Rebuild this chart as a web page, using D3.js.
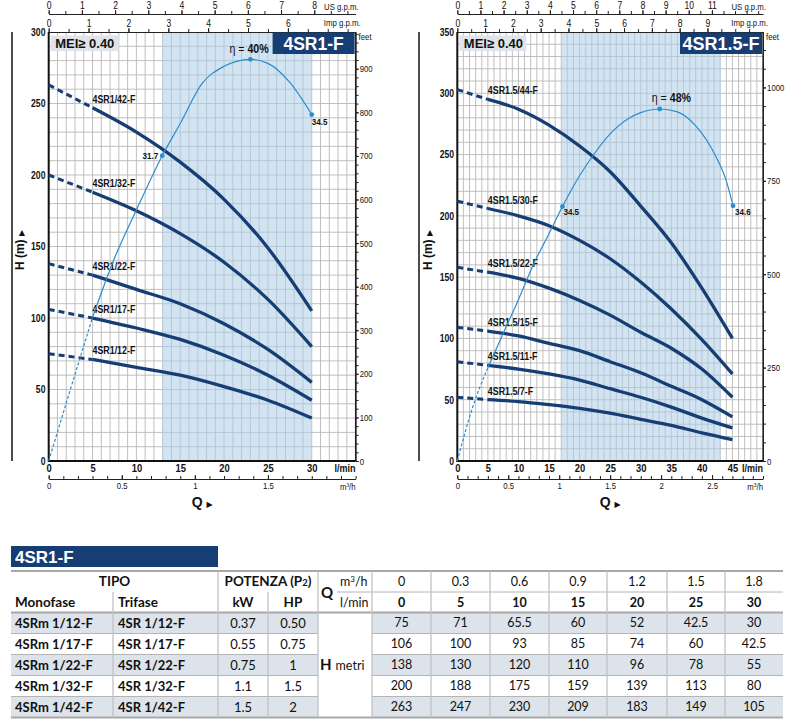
<!DOCTYPE html>
<html>
<head>
<meta charset="utf-8">
<script src="https://cdn.jsdelivr.net/npm/d3@7"></script>
<style>
  body { margin: 0; background: #fff; }
  svg { display: block; }
</style>
</head>
<body>
<svg id="chart" width="794" height="724"></svg>
<script>
// ---- left chart : 4SR1-F (l/min, m) ----
const leftFlow = [0, 5, 10, 15, 20, 25, 30];
const leftModels = ["4SR1/42-F", "4SR1/32-F", "4SR1/22-F", "4SR1/17-F", "4SR1/12-F"];
const leftHead42 = [263, 247, 230, 209, 183, 149, 105];
const leftHead32 = [200, 188, 175, 159, 139, 113, 80];
const leftHead22 = [138, 130, 120, 110, 96, 78, 55];
const leftHead17 = [106, 100, 93, 85, 74, 60, 42.5];
const leftHead12 = [75, 71, 65.5, 60, 52, 42.5, 30];
const leftEffFlow = [0, 2.5, 5, 7.5, 10, 12.95, 15, 17.5, 20, 23, 25, 27.5, 30];
const leftEffValue = [0, 7.2, 14.3, 20.2, 25, 30.4, 33.6, 37.6, 39.3, 40, 39.6, 37.7, 34.5];
const leftEffDotFlow = [12.95, 23, 30];
const leftEffDotText = ["31.7", null, "34.5"];

// ---- right chart : 4SR1.5-F ----
const rightFlow = [0, 5, 10, 15, 20, 25, 30, 35, 40, 45];
const rightModels = ["4SR1.5/44-F", "4SR1.5/30-F", "4SR1.5/22-F", "4SR1.5/15-F", "4SR1.5/11-F", "4SR1.5/7-F"];
const rightHead44 = [303, 295, 287, 274, 257, 236, 208, 178, 141, 100];
const rightHead30 = [212, 206, 200, 192, 180, 165, 146, 124, 99, 71];
const rightHead22 = [158, 154, 149, 141, 131, 119, 105, 92, 75, 52];
const rightHead15 = [109, 106, 102, 96, 90, 81, 72, 61, 50, 36];
const rightHead11 = [81, 78, 75, 71, 66, 59, 52, 44, 35, 27];
const rightHead7 = [52, 50, 48.5, 46, 43, 39, 34, 29, 23, 17.5];
const rightEffFlow = [0, 2.5, 5, 7.5, 10, 12.5, 15, 17.2, 20, 22.5, 25, 28, 30, 33.1, 36, 39, 42, 44, 45.1];
const rightEffValue = [0, 7.3, 12.7, 17.4, 22, 26.9, 31, 34.7, 38.9, 42, 44.6, 46.7, 47.5, 48, 47.6, 45.7, 42, 38.2, 34.8];
const rightEffDotFlow = [17.2, 33.1, 45.1];
const rightEffDotText = ["34.5", null, "34.6"];

// ---- table 4SR1-F ----
const tableMonofase = ["4SRm 1/12-F", "4SRm 1/17-F", "4SRm 1/22-F", "4SRm 1/32-F", "4SRm 1/42-F"];
const tableTrifase = ["4SR 1/12-F", "4SR 1/17-F", "4SR 1/22-F", "4SR 1/32-F", "4SR 1/42-F"];
const tableKw = ["0.37", "0.55", "0.75", "1.1", "1.5"];
const tableHp = ["0.50", "0.75", "1", "1.5", "2"];
const tableQm3h = ["0", "0.3", "0.6", "0.9", "1.2", "1.5", "1.8"];
const tableRows = [leftHead12, leftHead17, leftHead22, leftHead32, leftHead42];

const NAVY = "#163d74", EFF = "#2a8dcc", GRID = "#b9b9b9", SHADE = "#dce3ea";
const F_WIDE = '"Liberation Sans",Arial,sans-serif';
const F_TABLE = 'Lato,"Open Sans",sans-serif';
const SX = 0.82; // horizontal squeeze to mimic a narrow face

const svg = d3.select("#chart");
svg.append("rect").attr("width", 794).attr("height", 724).attr("fill", "#fff");

const styleAxis = (sel, size, weight) => {
  sel.attr("font-family", F_WIDE).attr("font-size", size);
  sel.selectAll("text").attr("fill", "#111").attr("font-weight", weight || "normal")
    .attr("transform", `scale(${SX},1)`);
  sel.selectAll("line, path").attr("stroke", "#222");
};

const ntext = (g, x, y, size, weight) => g.append("text")
  .attr("transform", `translate(${x},${y}) scale(${SX},1)`)
  .attr("font-family", F_WIDE).attr("font-size", size)
  .attr("font-weight", weight || "normal").attr("fill", "#111");

function drawChart(c) {
  const g = svg.append("g");
  const yBottom = 461, yTop = 32;
  const x = d3.scaleLinear().domain([0, c.qMax]).range([c.x0, c.x1]);
  const y = d3.scaleLinear().domain([0, c.hMax]).range([yBottom, yTop]);
  const eff = d3.scaleLinear().domain([0, c.effMax]).range([yBottom, yTop]);

  // grid
  g.append("g").selectAll("line").data(d3.range(1, c.qMax)).join("line")
    .attr("x1", d => x(d)).attr("x2", d => x(d))
    .attr("y1", yBottom).attr("y2", yTop)
    .attr("stroke", GRID).attr("stroke-width", 0.9);
  g.append("g").selectAll("line").data(d3.range(10, c.hMax, 10)).join("line")
    .attr("x1", c.x0).attr("x2", c.x1)
    .attr("y1", d => y(d)).attr("y2", d => y(d))
    .attr("stroke", GRID).attr("stroke-width", 0.9);

  // recommended range band
  g.append("rect")
    .attr("x", x(c.band[0])).attr("width", x(c.band[1]) - x(c.band[0]))
    .attr("y", yTop).attr("height", yBottom - yTop)
    .attr("fill", "#adcee6").attr("fill-opacity", 0.55);

  // outer left rule
  g.append("line").attr("x1", c.sideX).attr("x2", c.sideX).attr("y1", yTop).attr("y2", yBottom)
    .attr("stroke", "#111").attr("stroke-width", 1.5);

  // H axis (m)
  g.append("g").attr("transform", `translate(${c.x0},0)`)
    .call(d3.axisLeft(y).tickValues(d3.range(0, c.hMax + 1, 50)).tickSize(0).tickPadding(4))
    .call(a => a.select(".domain").remove())
    .call(a => styleAxis(a, 10.5, "bold"));

  // Q axis (l/min)
  g.append("g").attr("transform", `translate(0,${yBottom})`)
    .call(d3.axisBottom(x).tickValues(d3.range(0, c.qLabelMax + 1, 5)).tickSize(0).tickPadding(3))
    .call(a => a.select(".domain").remove())
    .call(a => styleAxis(a, 11.5, "bold"));
  ntext(g, c.x1, 472, 11, "bold").attr("text-anchor", "end").text("l/min");

  // feet axis
  const feetMax = c.hMax * 3.28084;
  const feet = d3.scaleLinear().domain([0, feetMax]).range([yBottom, yTop]);
  g.append("g").attr("transform", `translate(${c.x1},0)`)
    .call(d3.axisRight(feet).tickValues(d3.range(0, feetMax, c.feetMinor)).tickSize(3).tickSizeOuter(0).tickFormat(""))
    .call(a => styleAxis(a, 9));
  g.append("g").attr("transform", `translate(${c.x1},0)`)
    .call(d3.axisRight(feet).tickValues(c.feetLabels).tickSize(3).tickSizeOuter(0).tickPadding(2).tickFormat(d3.format("d")))
    .call(a => a.select(".domain").remove())
    .call(a => styleAxis(a, 9.5));
  ntext(g, c.x1 + 3, 40, 9.5).text("feet");

  // US g.p.m.
  const usMax = c.qMax / 3.78541;
  const us = d3.scaleLinear().domain([0, usMax]).range([c.x0, c.x1]);
  g.append("g").attr("transform", "translate(0,14)")
    .call(d3.axisTop(us).tickValues(d3.range(0, Math.floor(usMax * 2) + 1).map(i => i / 2)).tickSize(3).tickSizeOuter(0).tickFormat(""))
    .call(a => styleAxis(a, 9.5));
  g.append("g").attr("transform", "translate(0,14)")
    .call(d3.axisTop(us).tickValues(d3.range(0, c.usLabelMax + 1)).tickSize(4).tickSizeOuter(0).tickPadding(1))
    .call(a => a.select(".domain").remove())
    .call(a => styleAxis(a, 10.5));
  ntext(g, c.x1 + 3, 9.5, 9.5).attr("text-anchor", "end").text("US g.p.m.");

  // Imp g.p.m.
  const impMax = c.qMax / 4.54609;
  const imp = d3.scaleLinear().domain([0, impMax]).range([c.x0, c.x1]);
  g.append("g").attr("transform", `translate(0,${yTop})`)
    .call(d3.axisTop(imp).tickValues(d3.range(0, Math.floor(impMax * 2) + 1).map(i => i / 2)).tickSize(3).tickSizeOuter(0).tickFormat(""))
    .call(a => styleAxis(a, 9.5));
  g.append("g").attr("transform", `translate(0,${yTop})`)
    .call(d3.axisTop(imp).tickValues(d3.range(0, c.impLabelMax + 1)).tickSize(4).tickSizeOuter(0).tickPadding(1))
    .call(a => a.select(".domain").remove())
    .call(a => styleAxis(a, 10.5));
  ntext(g, c.x1 + 5, 26, 9.5).attr("text-anchor", "end").text("Imp g.p.m.");

  // m3/h
  const m3Max = c.qMax * 0.06;
  const m3 = d3.scaleLinear().domain([0, m3Max]).range([c.x0, c.x1]);
  g.append("g").attr("transform", "translate(0,479)")
    .call(d3.axisBottom(m3).tickValues(d3.range(0, Math.round(m3Max * 10) + 1).map(i => i / 10)).tickSize(-3).tickSizeOuter(0).tickFormat(""))
    .call(a => styleAxis(a, 9));
  g.append("g").attr("transform", "translate(0,479)")
    .call(d3.axisBottom(m3).tickValues(c.m3Labels).tickSize(-4).tickSizeOuter(0).tickPadding(3).tickFormat(d3.format("~g")))
    .call(a => a.select(".domain").remove())
    .call(a => styleAxis(a, 9.5));
  const m3Label = ntext(g, c.x1, 490, 9.5).attr("text-anchor", "end");
  m3Label.append("tspan").text("m");
  m3Label.append("tspan").attr("font-size", 6).attr("dy", -3.5).text("3");
  m3Label.append("tspan").attr("dy", 3.5).text("/h");

  // plot border
  g.append("line").attr("x1", c.x0).attr("x2", c.x0).attr("y1", yTop).attr("y2", yBottom + 1)
    .attr("stroke", "#111").attr("stroke-width", 2);
  g.append("line").attr("x1", c.x0).attr("x2", c.x1).attr("y1", yBottom).attr("y2", yBottom)
    .attr("stroke", "#111").attr("stroke-width", 2);
  g.append("line").attr("x1", c.x1).attr("x2", c.x1).attr("y1", yTop).attr("y2", yBottom)
    .attr("stroke", "#222").attr("stroke-width", 1.3);

  // axis titles
  const hLab = g.append("text")
    .attr("transform", `translate(${c.hLabelX},250) rotate(-90)`)
    .attr("text-anchor", "middle").attr("dy", "0.35em")
    .attr("font-family", F_WIDE).attr("font-size", 12).attr("font-weight", "bold").attr("fill", "#111");
  hLab.append("tspan").text("H (m) ");
  hLab.append("tspan").attr("font-family", "DejaVu Sans").attr("font-size", 8).text("▶");
  const qLab = g.append("text")
    .attr("x", (c.x0 + c.x1) / 2).attr("y", 507).attr("text-anchor", "middle")
    .attr("font-family", F_WIDE).attr("font-size", 14).attr("font-weight", "bold").attr("fill", "#111");
  qLab.append("tspan").text("Q ");
  qLab.append("tspan").attr("font-family", "DejaVu Sans").attr("font-size", 8).text("▶");

  // pump curves
  const line = d3.line().x(d => x(d[0])).y(d => y(d[1])).curve(d3.curveMonotoneX);
  c.heads.forEach((h, i) => {
    const pts = c.flow.map((q, j) => [q, h[j]]);
    g.append("path").attr("d", line(pts.slice(0, 2))).attr("fill", "none")
      .attr("stroke", NAVY).attr("stroke-width", 3).attr("stroke-dasharray", "6,4");
    g.append("path").attr("d", line(pts.slice(1))).attr("fill", "none")
      .attr("stroke", NAVY).attr("stroke-width", 3.3);
    ntext(g, x(c.flow[1]), y(h[1]) - 5, 10.8, "bold").text(c.models[i]);
  });

  // efficiency curve
  const effPts = c.effFlow.map((q, j) => [q, c.effValue[j]]);
  const effLine = d3.line().x(d => x(d[0])).y(d => eff(d[1])).curve(d3.curveMonotoneX);
  g.append("path").attr("d", effLine(effPts.filter(d => d[0] <= 5))).attr("fill", "none")
    .attr("stroke", EFF).attr("stroke-width", 1.2).attr("stroke-dasharray", "3,2");
  g.append("path").attr("d", effLine(effPts.filter(d => d[0] >= 5))).attr("fill", "none")
    .attr("stroke", EFF).attr("stroke-width", 1.2);
  const effMax = d3.max(c.effValue);
  c.effDotFlow.forEach((q, k) => {
    const v = c.effValue[c.effFlow.indexOf(q)];
    const cx = x(q), cy = eff(v);
    g.append("circle").attr("cx", cx).attr("cy", cy).attr("r", 2.4).attr("fill", EFF);
    if (c.effDotText[k]) {
      const o = c.effDotOffset[k];
      ntext(g, cx + o[0], cy + o[1], 9.8, "bold").attr("text-anchor", o[2]).text(c.effDotText[k]);
    } else {
      const t = ntext(g, cx + c.etaDx, cy + c.etaDy, 13);
      t.append("tspan").text("η = ");
      t.append("tspan").attr("font-weight", "bold").text(effMax + "%");
    }
  });

  // MEI box
  g.append("rect").attr("x", c.x0 + 2).attr("y", 35.5).attr("width", c.meiW).attr("height", 15.5).attr("fill", "#dfe4ea");
  g.append("text").attr("x", c.x0 + 6.5).attr("y", 47.5)
    .attr("font-family", F_WIDE).attr("font-size", 13).attr("font-weight", "bold").attr("fill", "#111")
    .text("MEI≥ 0.40");

  // title box
  g.append("rect").attr("x", c.x1 - 83).attr("y", 32.5).attr("width", 82).attr("height", 21.5).attr("fill", NAVY);
  g.append("text").attr("x", c.x1 - 42).attr("y", 50).attr("text-anchor", "middle")
    .attr("font-family", F_WIDE).attr("font-size", c.titleSize).attr("font-weight", "bold").attr("fill", "#fff")
    .text(c.title);
}

drawChart({
  title: "4SR1-F", titleSize: 17.5,
  x0: 48.7, x1: 355.6, qMax: 35, hMax: 300, qLabelMax: 30, effMax: 42.72,
  sideX: 12, hLabelX: 20, meiW: 68,
  band: [12.95, 30],
  feetMinor: 20, feetLabels: [0, 100, 200, 300, 400, 500, 600, 700, 800, 900],
  usLabelMax: 8, impLabelMax: 6, m3Labels: [0, 0.5, 1, 1.5],
  flow: leftFlow, models: leftModels,
  heads: [leftHead42, leftHead32, leftHead22, leftHead17, leftHead12],
  effFlow: leftEffFlow, effValue: leftEffValue,
  effDotFlow: leftEffDotFlow, effDotText: leftEffDotText,
  effDotOffset: [[-4, 3, "end"], null, [0, 10, "start"]],
  etaDx: -21, etaDy: -6
});

drawChart({
  title: "4SR1.5-F", titleSize: 18,
  x0: 457.3, x1: 763, qMax: 50, hMax: 350, qLabelMax: 45, effMax: 58.5,
  sideX: 419, hLabelX: 428, meiW: 67,
  band: [17, 43.1],
  feetMinor: 50, feetLabels: [0, 250, 500, 750, 1000],
  usLabelMax: 11, impLabelMax: 9, m3Labels: [0, 0.5, 1, 1.5, 2, 2.5],
  flow: rightFlow, models: rightModels,
  heads: [rightHead44, rightHead30, rightHead22, rightHead15, rightHead11, rightHead7],
  effFlow: rightEffFlow, effValue: rightEffValue,
  effDotFlow: rightEffDotFlow, effDotText: rightEffDotText,
  effDotOffset: [[1, 8, "start"], null, [2, 9, "start"]],
  etaDx: -8, etaDy: -7
});

// ---- table ----
function drawTable() {
  const g = svg.append("g").attr("font-family", F_TABLE).attr("font-size", 12.5).attr("fill", "#111");
  const cols = [11, 113, 218, 268, 318, 372, 431, 490, 549, 607, 667, 725, 783];
  const yTop = 571, yMid = 592, yHead = 612.5, rowH = 21;
  const yEnd = yHead + tableRows.length * rowH;
  const mid = (a, b) => (a + b) / 2;

  g.append("rect").attr("x", 11).attr("y", 546).attr("width", 207).attr("height", 21).attr("fill", NAVY);
  g.append("text").attr("x", 15).attr("y", 556.5).attr("dy", "0.36em")
    .attr("font-family", F_WIDE).attr("font-weight", "bold").attr("font-size", 17).attr("fill", "#fff").text("4SR1-F");

  tableRows.forEach((r, i) => {
    if (i % 2) return;
    const yy = yHead + i * rowH;
    g.append("rect").attr("x", cols[0]).attr("y", yy).attr("width", cols[4] - cols[0]).attr("height", rowH).attr("fill", SHADE);
    g.append("rect").attr("x", cols[5]).attr("y", yy).attr("width", cols[12] - cols[5]).attr("height", rowH).attr("fill", SHADE);
  });

  const hl = (x1, x2, yy, w, col) => g.append("line").attr("x1", x1).attr("x2", x2).attr("y1", yy).attr("y2", yy)
    .attr("stroke", col || "#b4b4b4").attr("stroke-width", w || 1);
  const vl = (xx, y1, y2) => g.append("line").attr("x1", xx).attr("x2", xx).attr("y1", y1).attr("y2", y2)
    .attr("stroke", "#c2c2c2").attr("stroke-width", 1.3);

  for (let i = 1; i < tableRows.length; i++) {
    hl(cols[0], cols[4], yHead + i * rowH);
    hl(cols[5], cols[12], yHead + i * rowH);
  }
  hl(cols[0], cols[12], yTop, 2, "#a8a8a8");
  hl(cols[0], cols[12], yHead, 2, "#a8a8a8");
  hl(cols[0], cols[12], yEnd, 2, "#a8a8a8");
  hl(337, cols[12], yMid, 1);

  [2, 4, 5, 6, 7, 8, 9, 10, 11].forEach(k => vl(cols[k], yTop, yEnd));
  [1, 3].forEach(k => vl(cols[k], yMid, yEnd));

  const txt = (xx, yy, s, anchor, bold) => g.append("text").attr("x", xx).attr("y", yy).attr("dy", "0.35em")
    .attr("text-anchor", anchor || "middle").attr("font-weight", bold ? "bold" : "normal").text(s);

  txt(mid(cols[0], cols[2]), mid(yTop, yMid), "TIPO", "middle", true).attr("font-size", 13.5);
  const pot = txt(mid(cols[2], cols[4]), mid(yTop, yMid), "POTENZA (P", "middle", true).attr("font-size", 13.5);
  pot.append("tspan").attr("font-size", 9.5).text("2");
  pot.append("tspan").text(")");
  txt(15, mid(yMid, yHead), "Monofase", "start", true).attr("font-size", 13.5);
  txt(cols[1] + 5, mid(yMid, yHead), "Trifase", "start", true).attr("font-size", 13.5);
  txt(mid(cols[2], cols[3]), mid(yMid, yHead), "kW", "middle", true).attr("font-size", 13.5);
  txt(mid(cols[3], cols[4]), mid(yMid, yHead), "HP", "middle", true).attr("font-size", 13.5);
  txt(321, yMid + 1, "Q", "start", true).attr("font-size", 15);
  const m3 = txt(340, mid(yTop, yMid), "m", "start").attr("font-size", 12.5);
  m3.append("tspan").attr("font-size", 8).attr("dy", -4).text("3");
  m3.append("tspan").attr("dy", 4).text("/h");
  txt(340, mid(yMid, yHead), "l/min", "start").attr("font-size", 12.5);
  const hm = txt(320, mid(yHead, yEnd), "H", "start", true).attr("font-size", 15);
  hm.append("tspan").attr("font-weight", "normal").attr("font-size", 12.5).attr("dx", 4).text("metri");

  tableQm3h.forEach((s, j) => {
    txt(mid(cols[5 + j], cols[6 + j]), mid(yTop, yMid), s);
    txt(mid(cols[5 + j], cols[6 + j]), mid(yMid, yHead), leftFlow[j], "middle", true);
  });
  tableRows.forEach((r, i) => {
    const yy = yHead + i * rowH + rowH / 2;
    txt(15, yy, tableMonofase[i], "start", true).attr("font-size", 13);
    txt(cols[1] + 5, yy, tableTrifase[i], "start", true).attr("font-size", 13);
    txt(mid(cols[2], cols[3]), yy, tableKw[i]).attr("font-size", 13);
    txt(mid(cols[3], cols[4]), yy, tableHp[i]).attr("font-size", 13);
    r.forEach((v, j) => txt(mid(cols[5 + j], cols[6 + j]), yy, v));
  });
}
drawTable();
</script>
</body>
</html>
